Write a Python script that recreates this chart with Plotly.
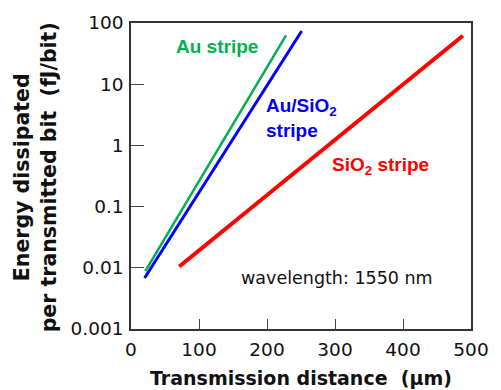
import plotly.graph_objects as go

# Data
au_x = [21, 228]
au_y = [0.0088, 63]
ausio2_x = [20, 251]
ausio2_y = [0.0068, 74]
sio2_x = [71, 488]
sio2_y = [0.0105, 62]

x_ticks = [0, 100, 200, 300, 400, 500]
x_ticktext = ["0", "100", "200", "300", "400", "500"]
y_ticks = [0.001, 0.01, 0.1, 1, 10, 100]
y_ticktext = ["0.001", "0.01", "0.1", "1", "10", "100"]

fig = go.Figure()
fig.add_trace(go.Scatter(x=au_x, y=au_y, mode="lines",
                         line=dict(color="#00b050", width=2.5), showlegend=False))
fig.add_trace(go.Scatter(x=ausio2_x, y=ausio2_y, mode="lines",
                         line=dict(color="#0000ff", width=3), showlegend=False))
fig.add_trace(go.Scatter(x=sio2_x, y=sio2_y, mode="lines",
                         line=dict(color="#ff0000", width=4), showlegend=False))

tickfont = dict(family="DejaVu Sans", size=18.5, color="#111")
fig.update_xaxes(range=[0, 500], tickvals=x_ticks, ticktext=x_ticktext,
                 ticks="inside", ticklen=10, tickcolor="#444", tickwidth=1,
                 showline=True, linecolor="#333", linewidth=1.5, mirror=True,
                 showgrid=False, zeroline=False, tickfont=tickfont,
                 ticklabelstandoff=3)
fig.update_yaxes(type="log", range=[-3, 2], tickvals=y_ticks, ticktext=y_ticktext,
                 ticks="inside", ticklen=13, tickcolor="#444", tickwidth=1,
                 showline=True, linecolor="#333", linewidth=1.5, mirror=True,
                 showgrid=False, zeroline=False, tickfont=tickfont,
                 ticklabelstandoff=2)

lab = "Liberation Sans"
ann = [
    dict(text="<b>Au stripe</b>", x=0.126, y=0.922, xanchor="left", yanchor="middle",
         font=dict(family=lab, size=19, color="#00b050")),
    dict(text="<b>Au/SiO<sub>2</sub><br>stripe</b>", x=0.3926, y=0.689, xanchor="left",
         yanchor="middle", align="left", font=dict(family=lab, size=19, color="#0000ff")),
    dict(text="<b>SiO<sub>2</sub> stripe</b>", x=0.5845, y=0.534, xanchor="left",
         yanchor="middle", font=dict(family=lab, size=19, color="#ff0000")),
    dict(text="wavelength: 1550 nm", x=0.318, y=0.168, xanchor="left", yanchor="middle",
         font=dict(family="DejaVu Sans", size=17.5, color="#111")),
    dict(text="<b>Transmission distance  (\u03bcm)</b>", x=0.4986, y=-0.1586,
         xanchor="center", yanchor="middle",
         font=dict(family="DejaVu Sans", size=19, color="#111")),
    dict(text="<b>Energy dissipated<br>per transmitted bit  (fJ/bit)</b>", x=-0.28, y=0.495,
         xanchor="center", yanchor="middle", textangle=-90,
         font=dict(family="DejaVu Sans", size=20.5, color="#111")),
]
for a in ann:
    a.update(xref="paper", yref="paper", showarrow=False)
fig.update_layout(annotations=ann, width=501, height=390,
                  margin=dict(l=131, r=21, t=20, b=61),
                  plot_bgcolor="white", paper_bgcolor="white")

fig.write_html("out.html")
